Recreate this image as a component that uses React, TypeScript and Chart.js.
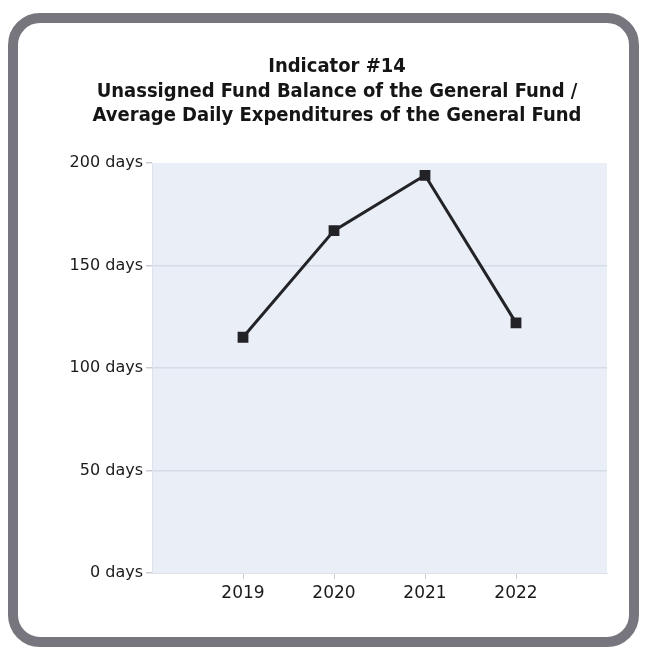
import React, { useEffect, useRef } from "react";
import { Chart, registerables } from "chart.js";

Chart.register(...registerables);

const titleLines = [
  "Indicator #14",
  "Unassigned Fund Balance of the General Fund /",
  "Average Daily Expenditures of the General Fund",
];
const years = [2019, 2020, 2021, 2022];
const daysValues = [115, 167, 194, 122];
const yTicks = [0, 50, 100, 150, 200];
const tickSuffix = " days";

const plotBg = {
  id: "plotBg",
  beforeDraw(chart: any) {
    const { ctx, chartArea } = chart;
    if (!chartArea) return;
    ctx.save();
    ctx.fillStyle = "#e9eef7";
    ctx.fillRect(chartArea.left, chartArea.top, chartArea.right - chartArea.left, chartArea.bottom - chartArea.top);
    ctx.restore();
  },
};

const titleDraw = {
  id: "titleDraw",
  afterDraw(chart: any) {
    const { ctx } = chart;
    ctx.save();
    ctx.fillStyle = "#151515";
    ctx.textAlign = "center";
    ctx.textBaseline = "middle";
    ctx.font = "bold 20px 'DejaVu Sans Condensed', 'DejaVu Sans', sans-serif";
    const ys = [67, 92, 116];
    titleLines.forEach((t, i) => ctx.fillText(t, 337, ys[i]));
    ctx.restore();
  },
};

export default function App() {
  const ref = useRef<HTMLCanvasElement | null>(null);

  useEffect(() => {
    if (!ref.current) return;
    document.body.style.margin = "0";
    const chart = new Chart(ref.current, {
      type: "line",
      data: {
        datasets: [
          {
            data: years.map((y, i) => ({ x: y, y: daysValues[i] })),
            borderColor: "#232227",
            backgroundColor: "#232227",
            borderWidth: 3,
            pointStyle: "rect",
            pointRadius: 5.5,
            pointBackgroundColor: "#232227",
            pointBorderColor: "#232227",
            tension: 0,
          },
        ],
      },
      options: {
        animation: false,
        responsive: false,
        layout: { padding: { left: 0, right: 38, top: 163, bottom: 0 } },
        plugins: {
          legend: { display: false },
          tooltip: { enabled: false },
          title: { display: false },
        },
        scales: {
          x: {
            type: "linear",
            min: years[0] - 1,
            max: years[years.length - 1] + 1,
            afterBuildTicks: (scale: any) => {
              scale.ticks = years.map((v) => ({ value: v }));
            },
            afterFit: (scale: any) => {
              scale.height = 82;
            },
            ticks: {
              color: "#1a1a1a",
              font: { family: "DejaVu Sans", size: 17 },
              padding: 4,
              callback: (v: any) => String(v),
              autoSkip: false,
              maxRotation: 0,
            },
            grid: { drawOnChartArea: false, drawTicks: true, tickLength: 6, tickColor: "#c9ccd2" },
            border: { display: true, color: "#dde1e8" },
          },
          y: {
            min: 0,
            max: 200,
            afterBuildTicks: (scale: any) => {
              scale.ticks = yTicks.map((v) => ({ value: v }));
            },
            afterFit: (scale: any) => {
              scale.width = 152;
            },
            ticks: {
              color: "#1a1a1a",
              font: { family: "DejaVu Sans", size: 16 },
              padding: 3,
              callback: (v: any) => v + tickSuffix,
            },
            grid: {
              color: (c: any) => (c.tick && (c.tick.value === 0 || c.tick.value === 200) ? "rgba(0,0,0,0)" : "#d6dce7"),
              tickColor: "#c9ccd2",
              tickLength: 6,
              lineWidth: 1.5,
            },
            border: { display: true, color: "#dde1e8" },
          },
        },
      },
      plugins: [plotBg, titleDraw],
    } as any);
    return () => chart.destroy();
  }, []);

  return (
    <div style={{ position: "fixed", left: 0, top: 0, width: 645, height: 655, background: "#ffffff" }}>
      <canvas ref={ref} width={645} height={655} style={{ position: "absolute", left: 0, top: 0 }} />
      <div
        style={{
          position: "absolute",
          left: 8,
          top: 13,
          width: 611,
          height: 614,
          border: "10px solid #77757d",
          borderRadius: 32,
          pointerEvents: "none",
        }}
      />
    </div>
  );
}
